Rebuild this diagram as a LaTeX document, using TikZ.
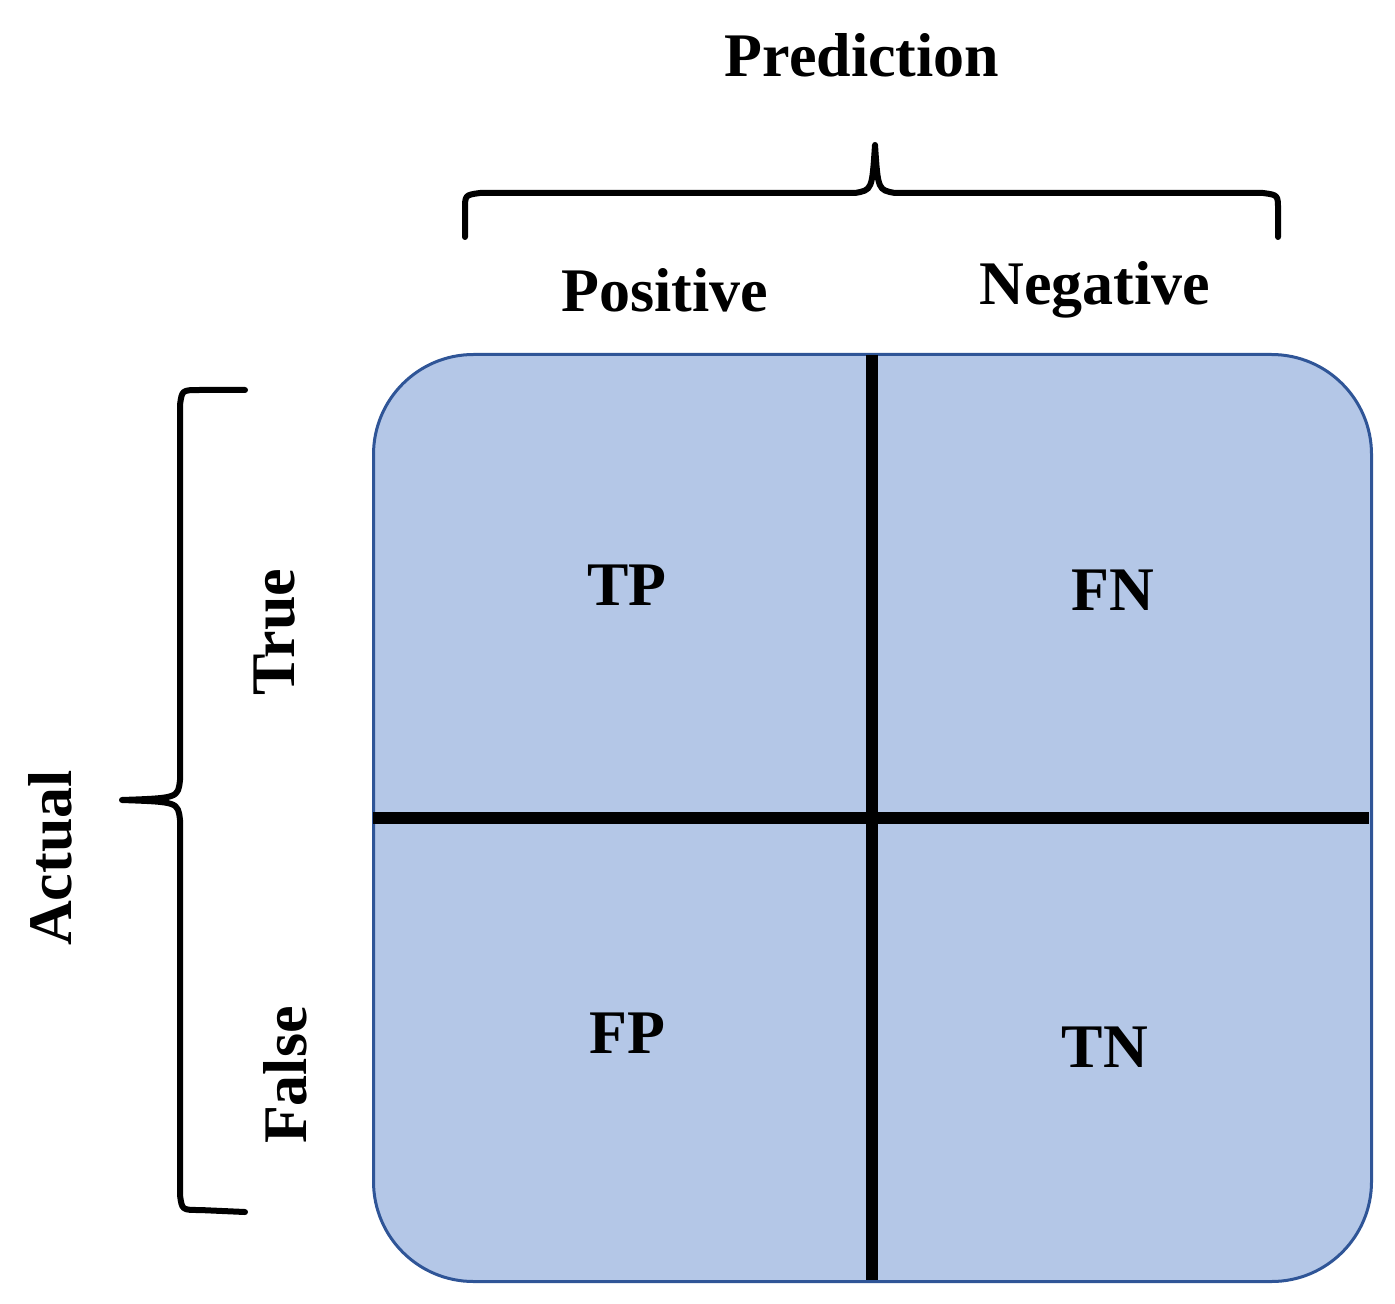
\documentclass[tikz,border=0pt]{standalone}
\usepackage{fontspec}
\setmainfont{Liberation Serif}
\begin{document}
\begin{tikzpicture}[x=0.5pt,y=-0.5pt,
 lbl/.style={font=\fontsize{31}{36}\selectfont\bfseries, inner sep=0},
 brace/.style={line width=3pt, line cap=round, line join=round},
 div/.style={line width=6pt}]
\useasboundingbox (0,0) rectangle (1395,1304);
\definecolor{cellfill}{HTML}{B4C7E7}
\definecolor{cellborder}{HTML}{2F5597}
\node[draw=cellborder, fill=cellfill, line width=1.5pt, rounded corners=50pt, minimum width=499pt, minimum height=463.5pt, anchor=north west, inner sep=0] (box) at (372,353) {};
\coordinate (vt) at (872,355); \coordinate (vb) at (872,1280);
\coordinate (hl) at (373,818); \coordinate (hr) at (1369,818);
\draw[div] (vt) -- (vb);
\draw[div] (hl) -- (hr);
\node[lbl] (pred) at (862,55) {Prediction};
\node[lbl] (pos) at (665,290) {Positive};
\node[lbl] (neg) at (1095,290) {Negative};
\node[lbl] (tp) at (627,585) {TP};
\node[lbl] (fn) at (1113,590) {FN};
\node[lbl] (fp) at (627,1033) {FP};
\node[lbl] (tn) at (1105,1047) {TN};
\node[lbl, rotate=90] (tr) at (275,632) {True};
\node[lbl, rotate=90] (fa) at (285,1075) {False};
\node[lbl, rotate=90] (ac) at (50,858) {Actual};
% top brace
\draw[brace] (465,237) -- (465,210) .. controls (465,195) .. (480,193) -- (855,193) .. controls (872,190) .. (875,145)
 .. controls (878,190) .. (895,193) -- (1263,193) .. controls (1278,195) .. (1278,210) -- (1278,237);
% left brace
\draw[brace] (245,390) -- (200,390) .. controls (182,390) .. (180,405) -- (180,780) .. controls (178,798) .. (122,800)
 .. controls (178,802) .. (180,820) -- (180,1195) .. controls (182,1210) .. (200,1210) -- (245,1212);
\end{tikzpicture}
\end{document}
